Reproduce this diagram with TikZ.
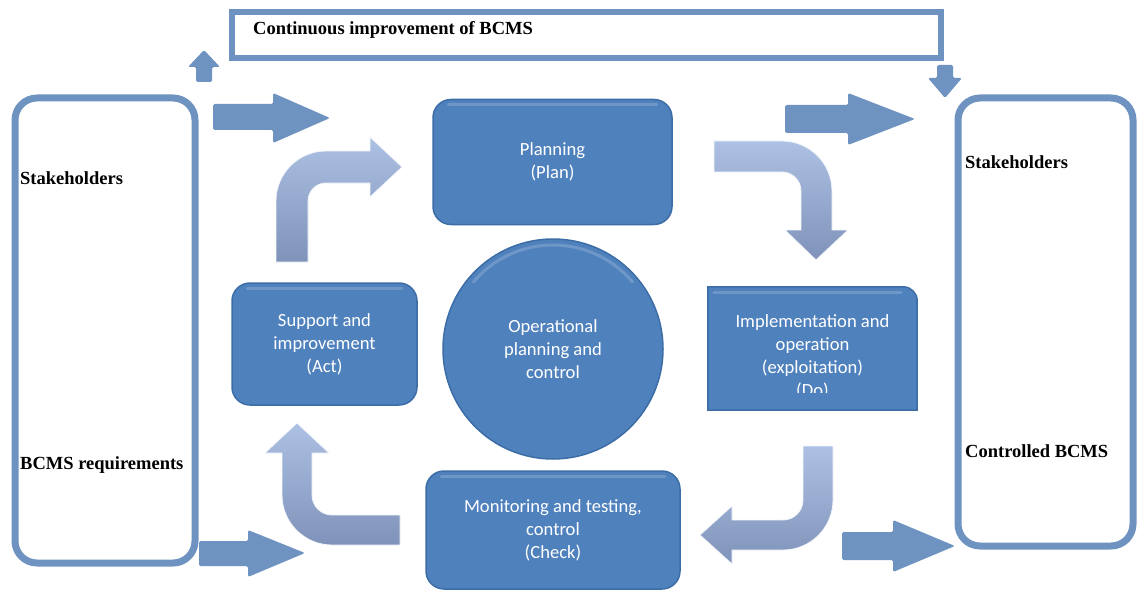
\documentclass[tikz,border=0pt]{standalone}
\usepackage{fontspec}
\setmainfont{Liberation Serif}
\newfontfamily\boxfont{Carlito}

\definecolor{frameblue}{HTML}{6F93C1}
\definecolor{boxblue}{HTML}{4F81BD}
\definecolor{boxedge}{HTML}{3D6DA6}
\definecolor{bendtop}{HTML}{ADC1E4}
\definecolor{bendbot}{HTML}{7F92B9}

\tikzset{
  frame/.style={draw=frameblue, line width=7pt, rounded corners=22pt, inner sep=0pt},
  sidetext/.style={font=\bfseries\fontsize{18.5}{22}\selectfont, anchor=west, inner sep=0pt},
  stagetext/.style={text=white, font=\boxfont\fontsize{18.6}{23}\selectfont, align=center, inner sep=0pt},
  stage/.style={stagetext, fill=boxblue, draw=boxedge, line width=1.5pt, rounded corners=18pt},
  gloss/.style={draw=white, opacity=0.18, line width=3pt, line cap=round},
  flatarrow/.style={fill=frameblue, rounded corners=1.5pt},
  bendarrow/.style={top color=bendtop, bottom color=bendbot, draw=white!85!bendtop, line width=0.8pt}
}

\begin{document}
\begin{tikzpicture}[x=1pt,y=-1pt]
    \useasboundingbox (0,0) rectangle (1138,591);

    % Banner on top
    \node[draw=frameblue, line width=6pt, minimum width=709pt, minimum height=46pt, inner sep=0pt] (banner) at (586.5,35) {};
    \node[sidetext] (bannertext) at (253,30) {Continuous improvement of BCMS};

    % Small arrows up to / down from the banner
    \fill[flatarrow] (196,82) -- (196,67) -- (188,67) -- (204,50) -- (220,67) -- (212,67) -- (212,82) -- cycle;
    \fill[flatarrow] (937,65) -- (953,65) -- (953,78) -- (962,78) -- (945,98) -- (928,78) -- (937,78) -- cycle;

    % Input side
    \node[frame, minimum width=180pt, minimum height=465pt] (inputs) at (105,330.5) {};
    \node[sidetext] (stakein) at (20,178) {Stakeholders};
    \node[sidetext] (reqs) at (20,465) {BCMS requirements};

    % Output side
    \node[frame, minimum width=175pt, minimum height=448pt] (outputs) at (1045.5,322) {};
    \node[sidetext] (stakeout) at (965,162) {Stakeholders};
    \node[sidetext] (ctrl) at (965,451) {Controlled BCMS};

    % Straight arrows in and out
    \fill[flatarrow] (213,104) -- (273,104) -- (273,93) -- (330,118) -- (273,143) -- (273,130) -- (213,130) -- cycle;
    \fill[flatarrow] (785,105) -- (848,105) -- (848,93) -- (915,119) -- (848,145) -- (848,133) -- (785,133) -- cycle;
    \fill[flatarrow] (199,541) -- (248,541) -- (248,530) -- (305,553) -- (248,577) -- (248,566) -- (199,566) -- cycle;
    \fill[flatarrow] (842,532) -- (893,532) -- (893,520) -- (955,546) -- (893,572) -- (893,560) -- (842,560) -- cycle;

    % PDCA stages
    \node[stage, minimum width=239pt, minimum height=125pt] (plan) at (552.5,162) {Planning\\(Plan)};
    \node[stage, minimum width=185pt, minimum height=122pt] (act) at (324.5,344) {Support and\\improvement\\(Act)};
    \node[stage, minimum width=254pt, minimum height=118pt] (check) at (553,530) {Monitoring and testing,\\control\\(Check)};
    \node[stage, circle, minimum size=220pt] (core) at (553,349) {Operational\\planning and\\control};

    % Do box, only one rounded corner
    \node[minimum width=209pt, minimum height=123pt, inner sep=0pt] (do) at (812.5,348.5) {};
    \filldraw[fill=boxblue, draw=boxedge, line width=1.5pt] (do.south west) -- (do.north west)
        -- ([xshift=-14pt]do.north east) arc[start angle=-90, end angle=0, radius=14] -- (do.south east) -- cycle;
    \begin{scope}
        \clip (700,280) rectangle (925,392);
        \node[stagetext] (dotext) at (812.5,357) {Implementation and\\operation\\(exploitation)\\(Do)};
    \end{scope}

    % Gloss on the stages
    \draw[gloss] ([shift={(16,6)}]plan.north west) -- ([shift={(-16,6)}]plan.north east);
    \draw[gloss] ([shift={(16,6)}]act.north west) -- ([shift={(-16,6)}]act.north east);
    \draw[gloss] ([shift={(16,6)}]check.north west) -- ([shift={(-16,6)}]check.north east);
    \draw[gloss] ([shift={(6,6)}]do.north west) -- ([shift={(-16,6)}]do.north east);
    \draw[gloss] ([shift={(-140:104)}]core.center) arc[start angle=-140, end angle=-40, radius=104];

    % Bent arrows around the cycle
    \path[bendarrow] (276,262) -- (276,201) arc[start angle=180, end angle=270, radius=50] -- (370,151) -- (370,137)
        -- (402,167) -- (370,197) -- (370,183) -- (326,183) arc[start angle=270, end angle=180, radius=18] -- (308,262) -- cycle;
    \path[bendarrow] (714,141) -- (782,141) arc[start angle=270, end angle=360, radius=50] -- (832,230) -- (848,230)
        -- (816,260) -- (785,230) -- (801,230) -- (801,191) arc[start angle=0, end angle=-90, radius=19] -- (714,172) -- cycle;
    \path[bendarrow] (803,446) -- (833,446) -- (833,500) arc[start angle=0, end angle=90, radius=50] -- (732,550) -- (732,564)
        -- (700,535) -- (732,506) -- (732,520) -- (783,520) arc[start angle=90, end angle=0, radius=20] -- cycle;
    \path[bendarrow] (400,545) -- (332,545) arc[start angle=90, end angle=180, radius=50] -- (282,453) -- (265,453)
        -- (297,423) -- (329,453) -- (312,453) -- (312,495) arc[start angle=180, end angle=90, radius=20] -- (400,515) -- cycle;
\end{tikzpicture}
\end{document}
